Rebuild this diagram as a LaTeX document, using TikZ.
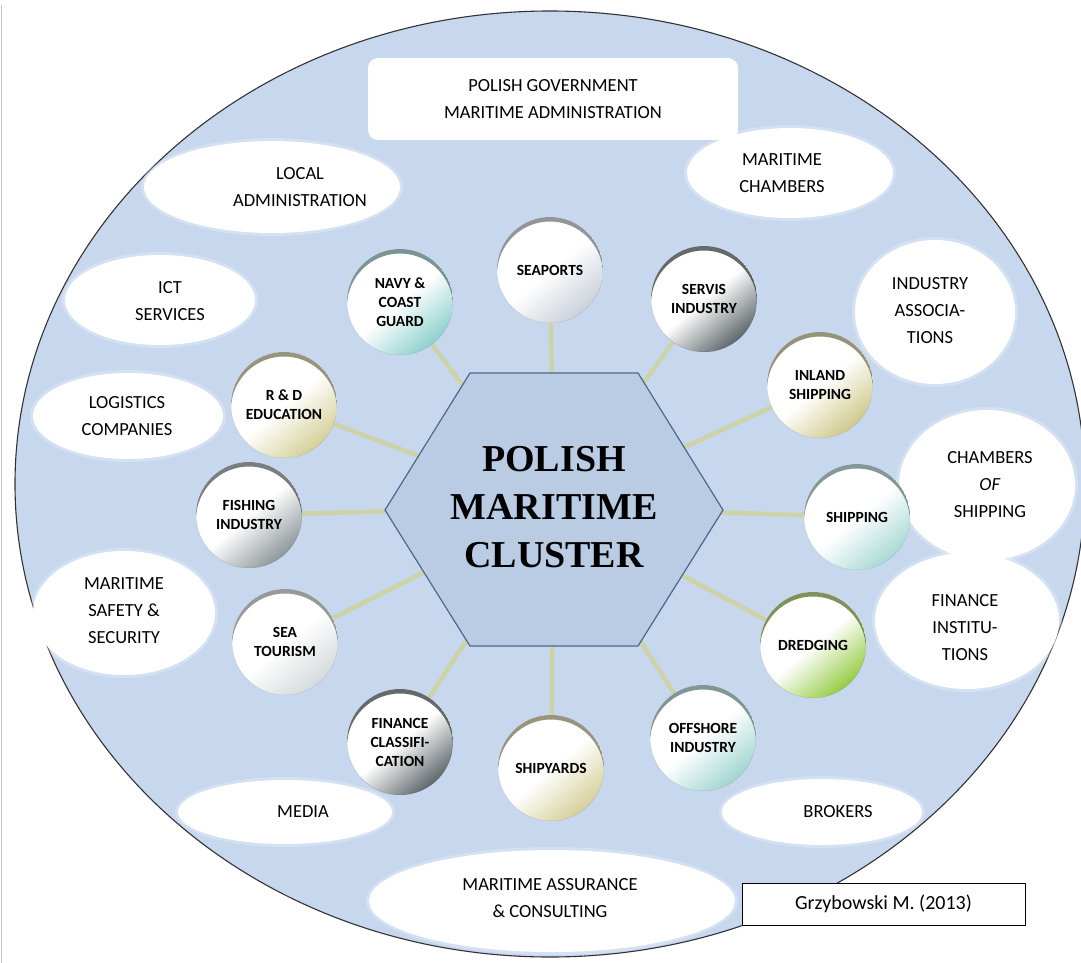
\documentclass[tikz,border=0pt]{standalone}
\usepackage{fontspec}
\setmainfont{Carlito}
\newfontfamily\hexfont{Liberation Serif}
\pgfdeclarelayer{back}
\pgfdeclarelayer{mid}
\pgfsetlayers{back,mid,main}
\definecolor{sea}{HTML}{C6D7EE}
\definecolor{hexfill}{HTML}{BACCE4}
\definecolor{hexline}{HTML}{4A6890}
\definecolor{spokec}{HTML}{CDD3A6}
\definecolor{hgrayl}{HTML}{C9D1D9}
\definecolor{hdark}{HTML}{5E676B}
\definecolor{hteal}{HTML}{8ED0CC}
\definecolor{holive}{HTML}{D4D09A}
\definecolor{holived}{HTML}{CFC98A}
\definecolor{hgray}{HTML}{8E979B}
\definecolor{htealb}{HTML}{A8D9D5}
\definecolor{hlight}{HTML}{D5DADC}
\definecolor{hgreen}{HTML}{96CC45}
\definecolor{htealc}{HTML}{A0D5D0}
\tikzset{
  lbl/.style={align=center, inner sep=0pt, font=\fontsize{18.5}{27}\selectfont},
  hub/.style={circle, minimum size=106pt, inner sep=0pt, align=center,
    font=\fontsize{15.5}{19}\selectfont\bfseries,
    top color=white, bottom color=#1, middle color=white, shading angle=40,
    path picture={\fill[#1!55!black, opacity=.75, even odd rule]
      (path picture bounding box.center) circle (53pt)
      ([yshift=-4.5pt]path picture bounding box.center) circle (53pt);}},
  spoke/.style={draw=spokec, line width=4.5pt},
}
\newcommand\blob[4]{%
  \fill[white, opacity=.25] (#1,#2) ellipse ({#3pt+3pt} and {#4pt+3pt});
  \fill[white] (#1,#2) ellipse (#3pt and #4pt);}
\begin{document}
\begin{tikzpicture}[x=1pt,y=-1pt]
\useasboundingbox (0,0) rectangle (1081,963);
\begin{pgfonlayer}{back}
  \fill[white] (0,0) rectangle (1081,963);
  \draw[gray!45, line width=1.5pt] (1.5,5) -- (1.5,963);
  \draw[fill=sea, draw=black!80, line width=1.1pt] (550,484) ellipse (535pt and 473pt);
  \blob{272}{187}{128}{46}
  \blob{790}{173}{103}{45}
  \blob{160}{300}{95}{45}
  \blob{935}{312}{80}{72}
  \blob{128}{416}{95}{43}
  \blob{987}{485}{88}{75}
  \blob{124}{613}{91}{62}
  \blob{967}{621}{92}{68}
  \blob{285}{812}{107}{32}
  \blob{822}{812}{100}{33}
  \blob{552}{901}{183}{51}
\end{pgfonlayer}

% outer labels
\node[lbl] (local) at (300,187) {LOCAL\\ADMINISTRATION};
\node[lbl] (chambers) at (782,173) {MARITIME\\CHAMBERS};
\node[lbl] (ict) at (170,301) {ICT\\SERVICES};
\node[lbl] (assoc) at (930,311) {INDUSTRY\\ASSOCIA-\\TIONS};
\node[lbl] (logistics) at (127,416) {LOGISTICS\\COMPANIES};
\node[lbl] (chship) at (990,485) {CHAMBERS\\\textit{OF}\\SHIPPING};
\node[lbl] (safety) at (124,611) {MARITIME\\SAFETY \&\\SECURITY};
\node[lbl] (fininst) at (965,628) {FINANCE\\INSTITU-\\TIONS};
\node[lbl] (media) at (303,812) {MEDIA};
\node[lbl] (brokers) at (838,812) {BROKERS};
\node[lbl] (assur) at (550,898) {MARITIME ASSURANCE\\\& CONSULTING};

\node[fill=white, rounded corners=10pt, minimum width=370pt, minimum height=82pt,
      lbl] (gov) at (553,99) {POLISH GOVERNMENT\\MARITIME ADMINISTRATION};

\node[draw=black, fill=white, line width=1pt, minimum width=283pt, minimum height=42pt,
      font=\fontsize{20}{22}\selectfont] (src) at (883.5,904) {Grzybowski M. (2013)};

% hexagon
\coordinate (h1) at (385,510);
\coordinate (h2) at (470,373);
\coordinate (h3) at (638,373);
\coordinate (h4) at (723,510);
\coordinate (h5) at (638,646);
\coordinate (h6) at (470,646);
\draw[fill=hexfill, draw=hexline, line width=1.2pt] (h1) -- (h2) -- (h3) -- (h4) -- (h5) -- (h6) -- cycle;
\node[align=center, inner sep=0pt, font=\hexfont\bfseries\fontsize{38}{48}\selectfont] (hex) at (554,507) {POLISH\\MARITIME\\CLUSTER};

% hubs
\node[hub=hgrayl] (seaports) at (550,270) {SEAPORTS};
\node[hub=hdark] (servis) at (704,299) {SERVIS\\INDUSTRY};
\node[hub=hteal] (navy) at (400,302) {NAVY \&\\COAST\\GUARD};
\node[hub=holive] (rd) at (284,405) {R \& D\\EDUCATION};
\node[hub=holived] (inland) at (820,385) {INLAND\\SHIPPING};
\node[hub=hgray] (fishing) at (249,515) {FISHING\\INDUSTRY};
\node[hub=htealb] (shipping) at (857,517) {SHIPPING};
\node[hub=hlight] (seatour) at (285,642) {SEA\\TOURISM};
\node[hub=hgreen] (dredging) at (813,645) {DREDGING};
\node[hub=hdark] (fincl) at (400,742) {FINANCE\\CLASSIFI-\\CATION};
\node[hub=holive] (shipyards) at (551,768) {SHIPYARDS};
\node[hub=htealc] (offshore) at (703,738) {OFFSHORE\\INDUSTRY};

\begin{pgfonlayer}{mid}
  \foreach \n in {seaports,servis,navy,rd,inland,fishing,shipping,seatour,dredging,fincl,shipyards,offshore}
    \draw[spoke] (\n.center) -- (hex.center);
\end{pgfonlayer}
\end{tikzpicture}
\end{document}
